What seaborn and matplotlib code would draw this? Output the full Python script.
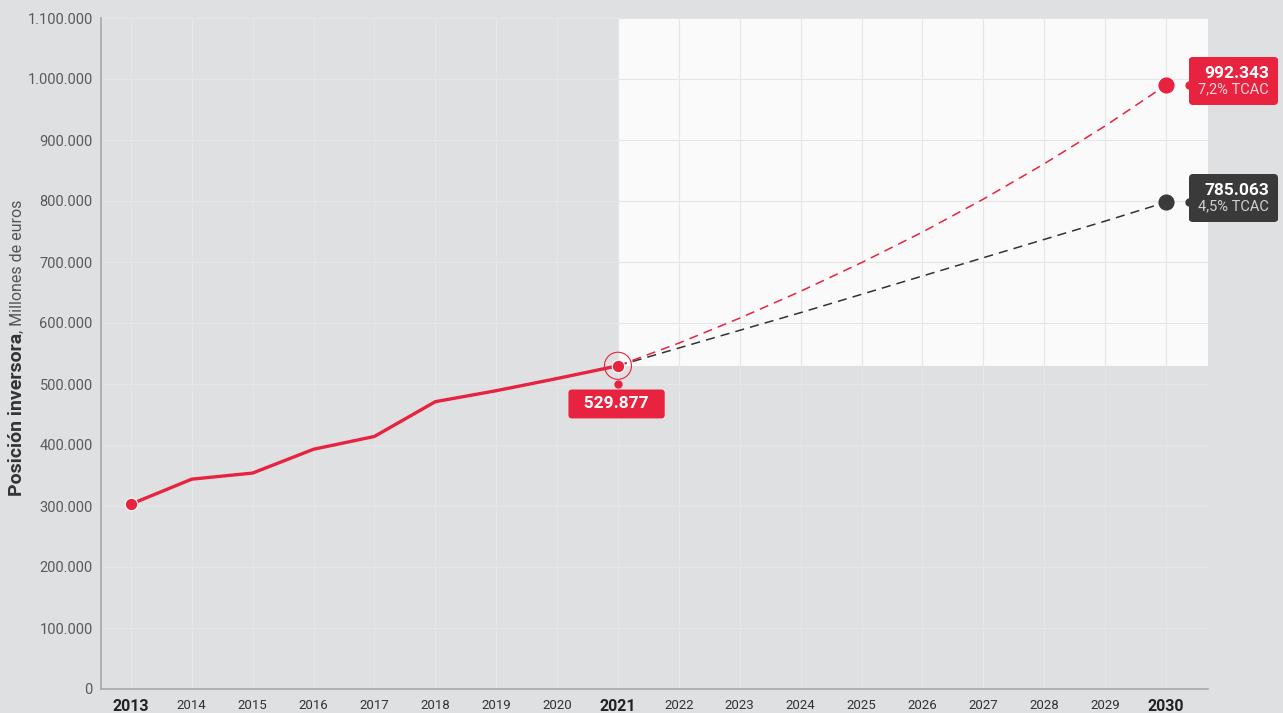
import matplotlib
matplotlib.use("Agg")
import numpy as np
import pandas as pd
import seaborn as sns
import matplotlib.pyplot as plt
from matplotlib.patches import Rectangle
from matplotlib.offsetbox import TextArea, VPacker, AnnotationBbox
from matplotlib.ticker import FuncFormatter, MultipleLocator
import matplotlib.transforms as mtransforms

# historical series (millones de euros)
years_hist = [2013, 2014, 2015, 2016, 2017, 2018, 2019, 2020, 2021]
values_hist = [303000, 344000, 354000, 393000, 414000, 471000, 489000, 509000, 529877]

# projections 2021-2030
years_proj = [2021, 2022, 2023, 2024, 2025, 2026, 2027, 2028, 2029, 2030]
values_high = [529877, 567000, 608000, 652000, 699000, 749000, 803000, 861000, 923000, 990000]
values_base = [529877, 559000, 588000, 617000, 647000, 677000, 707000, 737000, 767000, 798000]

label_2021 = "529.877"
label_high = ("992.343", "7,2% TCAC")
label_base = ("785.063", "4,5% TCAC")
bold_years = [2013, 2021, 2030]

RED = "#e8233f"
DARK = "#3a3a3a"
BG = "#dfe0e2"

sns.set_theme(style="white")
plt.rcParams["font.family"] = ["Roboto", "DejaVu Sans"]

fig = plt.figure(figsize=(12.83, 7.13), dpi=100, facecolor=BG)
ax = fig.add_axes([101 / 1283, 1 - 689 / 713, (1208 - 101) / 1283, (689 - 18) / 713])
ax.set_facecolor(BG)

x_left = years_hist[0] - 0.49
x_right = years_proj[-1] + 0.69
y_top = 1100000
ax.set_xlim(x_left, x_right)
ax.set_ylim(0, y_top)

# white forecast area
y_start = values_hist[-1]
ax.add_patch(Rectangle((years_proj[0], y_start), x_right - years_proj[0],
                       y_top - y_start, facecolor="#fafafa", edgecolor="none", zorder=0.2))

hist = pd.DataFrame({"year": years_hist, "value": values_hist})
proj = pd.DataFrame({"year": years_proj * 2,
                     "value": values_high + values_base,
                     "scenario": ["high"] * len(years_proj) + ["base"] * len(years_proj)})

sns.lineplot(data=proj[proj.scenario == "base"], x="year", y="value", ax=ax,
             color="#333333", lw=1.1, linestyle="--", zorder=3)
sns.lineplot(data=proj[proj.scenario == "high"], x="year", y="value", ax=ax,
             color=RED, lw=1.1, linestyle="--", zorder=3)
ax.lines[-1].set_dashes((6, 4))
ax.lines[-2].set_dashes((6, 4))
sns.lineplot(data=hist, x="year", y="value", ax=ax, color=RED, lw=2.4, zorder=4)

# markers
ax.plot(years_hist[0], values_hist[0], "o", color=RED, mec="white", mew=0.8, ms=9, zorder=5)
ax.plot(years_hist[-1], values_hist[-1], "o", color=RED, mec="white", mew=0.8, ms=9, zorder=5)
ax.scatter([years_hist[-1]], [values_hist[-1]], s=380, facecolor="none",
           edgecolor=RED, lw=0.8, zorder=5)
ax.plot(years_proj[-1], values_high[-1], "o", color=RED, mec="white", mew=0.8, ms=12.5, zorder=5)
ax.plot(years_proj[-1], values_base[-1], "o", color=DARK, mec="white", mew=0.8, ms=12.5, zorder=5)

# grid and axes
ax.grid(True, color="#e6e6e6", lw=0.8)
ax.set_axisbelow(True)
ax.yaxis.set_major_locator(MultipleLocator(100000))
ax.yaxis.set_major_formatter(FuncFormatter(lambda v, p: f"{v:,.0f}".replace(",", ".")))
ax.set_xticks(range(years_hist[0], years_proj[-1] + 1))
ax.set_xticklabels([str(y) for y in range(years_hist[0], years_proj[-1] + 1)])
for lab in ax.get_xticklabels():
    if int(lab.get_text()) in bold_years:
        lab.set_fontweight("bold")
        lab.set_fontsize(11.5)
        lab.set_color("#222222")
    else:
        lab.set_fontsize(9.5)
        lab.set_color("#333333")
ax.tick_params(axis="x", length=0, pad=7)
ax.tick_params(axis="y", direction="in", length=10, width=1, color="#b0b0b0",
               labelsize=10.5, labelcolor="#5a5a5a", pad=6)
for s in ["top", "right"]:
    ax.spines[s].set_visible(False)
for s in ["left", "bottom"]:
    ax.spines[s].set_color("#a8a8a8")
    ax.spines[s].set_linewidth(1.2)
ax.set_xlabel("")
ax.set_ylabel("")

# 2021 label below the point
pt_off = mtransforms.offset_copy(ax.transData, fig=fig, x=0, y=-13, units="points")
ax.plot(years_hist[-1], values_hist[-1], "o", color=RED, ms=5, transform=pt_off, zorder=5)
ax.annotate("  " + label_2021 + "  ", (years_hist[-1], values_hist[-1]), xytext=(-1, -27.5),
            textcoords="offset points", ha="center", va="center", color="white",
            fontsize=12.5, fontweight="bold", zorder=6,
            bbox=dict(boxstyle="round,pad=0.4,rounding_size=0.2", fc=RED, ec="none"))


def side_label(value, texts, color, sub_color):
    x = years_proj[-1]
    off = mtransforms.offset_copy(ax.transData, fig=fig, x=16.5, y=0, units="points")
    ax.plot(x, value, "o", color=color, ms=5, transform=off, zorder=7, clip_on=False)
    box = VPacker(children=[
        TextArea(texts[0], textprops=dict(color="white", fontsize=12.5, fontweight="bold")),
        TextArea(texts[1], textprops=dict(color=sub_color, fontsize=10.5)),
    ], align="right", pad=0, sep=1)
    ab = AnnotationBbox(box, (x, value), xybox=(23, 3), xycoords="data",
                        boxcoords="offset points", box_alignment=(0, 0.5), frameon=True,
                        pad=0.6, annotation_clip=False,
                        bboxprops=dict(boxstyle="round,pad=0.6,rounding_size=0.25",
                                       fc=color, ec="none"))
    ab.set_zorder(6)
    ax.add_artist(ab)


side_label(values_high[-1], label_high, RED, "#fbd3d9")
side_label(values_base[-1], label_base, DARK, "#d0d0d0")

# y axis label in two styles
fig.canvas.draw()
renderer = fig.canvas.get_renderer()
t1 = fig.text(17 / 1283, 1 - 496 / 713, "Posición inversora", rotation=90,
              ha="center", va="bottom", fontsize=14, fontweight="bold", color="#333333")
fig.canvas.draw()
bb = t1.get_window_extent(renderer)
fig.text(17 / 1283, bb.y1 / fig.bbox.height, ", Millones de euros", rotation=90,
         ha="center", va="bottom", fontsize=11.5, color="#555555")

fig.savefig("out.png", dpi=100, facecolor=BG)
